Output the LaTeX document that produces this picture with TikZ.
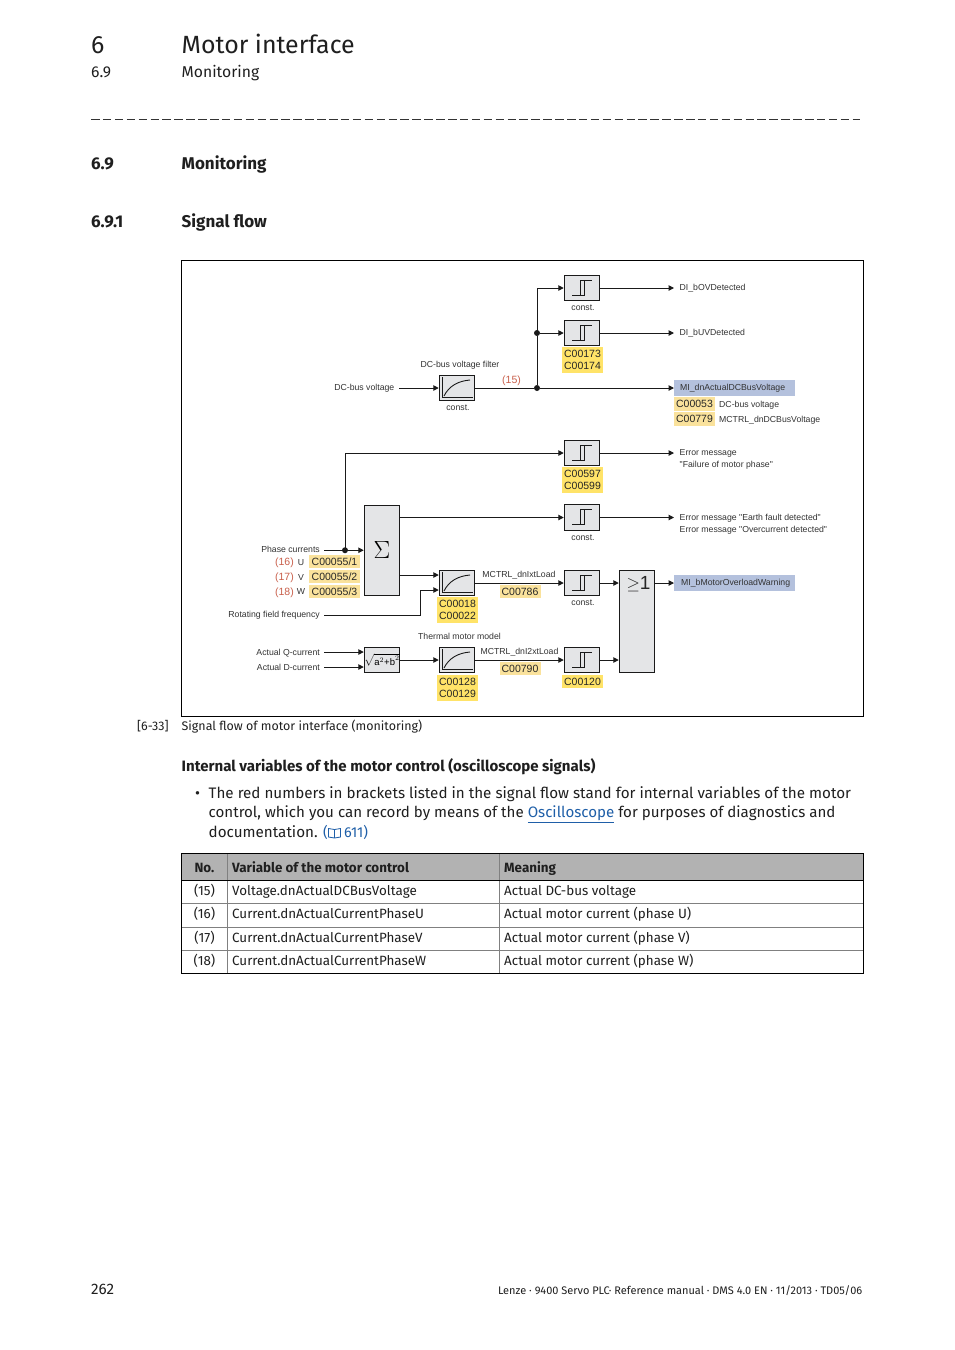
\documentclass[tikz,border=0pt]{standalone}
\usepackage{fontspec}
\setmainfont{Fira Sans}
\newfontfamily\arialf{Liberation Sans}
\usetikzlibrary{arrows.meta}
\definecolor{boxgray}{HTML}{E4E5E7}
\definecolor{lineblk}{HTML}{1A1A1A}
\definecolor{ylw}{HTML}{FFE368}
\definecolor{pale}{HTML}{FAE29C}
\definecolor{blu}{HTML}{B4C1DD}
\definecolor{redn}{HTML}{C9604C}
\definecolor{txtg}{HTML}{333333}
\definecolor{linkc}{HTML}{1F5FA8}
\definecolor{headg}{HTML}{B2B2B2}
\definecolor{rowg}{HTML}{808080}
\newcommand{\fsz}[1]{\fontsize{#1}{#1}\selectfont}
\tikzset{
 x=1pt,y=-1pt,
 block/.style={draw=lineblk,fill=boxgray,line width=1pt,inner sep=0pt,minimum width=35.5pt},
 thr/.style={block,minimum height=25.5pt},
 sig/.style={->,>={Triangle[length=5.5pt,width=5.5pt]},draw=lineblk,line width=1pt},
 wire/.style={draw=lineblk,line width=1pt},
 dotn/.style={circle,fill=lineblk,inner sep=0pt,minimum size=6pt},
 lab/.style={font=\arialf\fsz{8.7},text=txtg,inner sep=0pt},
 par1/.style={font=\arialf\fsz{10.5},text=black!85,inner sep=0pt,align=center},
 ybox/.style={par1,fill=ylw,minimum width=41pt},
 pbox/.style={par1,fill=pale},
 redl/.style={font=\arialf\fsz{10.5},text=redn,inner sep=0pt},
 bbox/.style={lab,fill=blu,minimum width=121pt,minimum height=16pt,anchor=west,text width=114pt,inner xsep=0pt,align=left},
 txt/.style={inner sep=0pt,anchor=base west,text=black!88},
 body/.style={txt,font=\fsz{15.2}},
 tbl/.style={txt,font=\fsz{13.4}},
 tblb/.style={txt,font=\bfseries\fsz{13.4}},
 secn/.style={txt,font=\bfseries\fsz{17}},
}
\newcommand{\thricon}[1]{%
 \draw[line width=0.7pt,draw=lineblk] ([shift={(-9.7,7)}]#1.center) -- ([shift={(2.3,7)}]#1.center) -- ([shift={(2.3,-8)}]#1.center)
   ([shift={(-2,7)}]#1.center) -- ([shift={(-2,-8)}]#1.center) -- ([shift={(10.3,-8)}]#1.center);}
\newcommand{\filticon}[1]{%
 \draw[line width=0.8pt,draw=lineblk] ([shift={(-14.3,-11)}]#1.center) -- ([shift={(-14.3,9.7)}]#1.center) -- ([shift={(16,9.7)}]#1.center);
 \draw[line width=0.9pt,draw=lineblk] ([shift={(-13,8)}]#1.center) .. controls ([shift={(-8,-2)}]#1.center) and ([shift={(1,-7)}]#1.center) .. ([shift={(13,-8)}]#1.center);}
\begin{document}
\begin{tikzpicture}
\useasboundingbox[fill=white] (0,0) rectangle (954,1350);
% page head
\node[txt,font=\fsz{24.9}] (h1) at (91,53) {6};
\node[txt,font=\fsz{24.9}] (h2) at (181.5,53) {Motor interface};
\node[body,font=\fsz{15.7}] (h3) at (91,77) {6.9};
\node[body,font=\fsz{15.7}] (h4) at (181.5,77) {Monitoring};
\coordinate (dl) at (91,119.5); \coordinate (dr) at (860,119.5);
\draw[line width=0.9pt,dash pattern=on 8.5pt off 3.4pt,draw=black!80] (dl) -- (dr);
\node[secn] (s1) at (91,169) {6.9};
\node[secn] (s2) at (181.5,169) {Monitoring};
\node[secn] (s3) at (91,227) {6.9.1};
\node[secn] (s4) at (181.5,227) {Signal flow};
% frame
\draw[line width=1pt,draw=black] (181.5,260.5) rectangle (863.5,716.5);
% yellow/blue backgrounds
\node[bbox] (mi1) at (674,388) {\hspace*{2.5pt}MI\_dnActualDCBusVoltage};
\node[bbox] (mi2) at (674,583) {\hspace*{3.5pt}MI\_bMotorOverloadWarning};
\node[pbox,minimum width=41pt,minimum height=14.5pt] (c53) at (694.5,404) {C00053};
\node[pbox,minimum width=41pt,minimum height=14pt] (c779) at (694.5,419) {C00779};
\node[pbox,minimum width=51pt,minimum height=13pt] (c551) at (334.5,561.5) {C00055/1};
\node[pbox,minimum width=51pt,minimum height=13pt] (c552) at (334.5,576.5) {C00055/2};
\node[pbox,minimum width=51pt,minimum height=13pt] (c553) at (334.5,591.5) {C00055/3};
\node[pbox,minimum width=41pt,minimum height=13pt] (c786) at (520,591.5) {C00786};
\node[pbox,minimum width=41pt,minimum height=13pt] (c790) at (520,668.5) {C00790};
\node[ybox,minimum height=26pt] (c173) at (582.5,360) {C00173\\[1.5pt]C00174};
\node[ybox,minimum height=26pt] (c597) at (582.5,480) {C00597\\[1.5pt]C00599};
\node[ybox,minimum height=26pt] (c18) at (457.5,610) {C00018\\[1.5pt]C00022};
\node[ybox,minimum height=26pt] (c128) at (457.5,688) {C00128\\[1.5pt]C00129};
\node[ybox,minimum height=13pt] (c120) at (582.5,681.5) {C00120};
% blocks
\node[thr] (t1) at (582,288) {};
\node[thr] (t2) at (582,333) {};
\node[thr] (t3) at (582,453) {};
\node[thr] (t4) at (582,517.5) {};
\node[thr] (t5) at (582,583) {};
\node[thr] (t6) at (582,660) {};
\node[thr] (f1) at (457,388) {};
\node[thr] (f2) at (457,583) {};
\node[thr] (f3) at (457,660) {};
\node[block,minimum height=90.5pt,font=\fsz{24}] (sum) at (382,550.25) {$\Sigma$};
\node[thr,font=\fsz{9.5}] (rt) at (382,660) {$\sqrt{\mbox{\arialf a}^{2}\mbox{\arialf +b}^{2}}$};
\node[block,minimum height=102.5pt] (orb) at (637,621.25) {};
\node[inner sep=0pt,font=\arialf\fsz{19},text=black!85] (orl) at (638.5,584) {$\geq$1};
\thricon{t1}\thricon{t2}\thricon{t3}\thricon{t4}\thricon{t5}\thricon{t6}
\filticon{f1}\filticon{f2}\filticon{f3}
% labels
\node[lab,anchor=base] (k1) at (583,310) {const.};
\node[lab,anchor=base] (k2) at (458,410) {const.};
\node[lab,anchor=base] (k3) at (583,540) {const.};
\node[lab,anchor=base] (k4) at (583,605) {const.};
\node[lab,anchor=base,text=txtg] (l1) at (460,367) {DC-bus voltage filter};
\node[lab,anchor=base east] (l2) at (394.5,390) {DC-bus voltage};
\node[redl,anchor=base] (r15) at (511.5,383) {(15)};
\node[lab,anchor=base west] (o1) at (679.5,290) {DI\_bOVDetected};
\node[lab,anchor=base west] (o2) at (679.5,335) {DI\_bUVDetected};
\node[lab,anchor=base west] (o3) at (719,407) {DC-bus voltage};
\node[lab,anchor=base west] (o4) at (719,422) {MCTRL\_dnDCBusVoltage};
\node[lab,anchor=base west] (o5) at (679.5,455) {Error message};
\node[lab,anchor=base west] (o6) at (679.5,467) {"Failure of motor phase"};
\node[lab,anchor=base west] (o7) at (679.5,520) {Error message "Earth fault detected"};
\node[lab,anchor=base west] (o8) at (679.5,532) {Error message "Overcurrent detected"};
\node[lab,anchor=base east] (i1) at (320,552) {Phase currents};
\node[redl,anchor=base east] (r16) at (294,565.5) {(16)};
\node[redl,anchor=base east] (r17) at (294,580.5) {(17)};
\node[redl,anchor=base east] (r18) at (294,595) {(18)};
\node[lab,anchor=base] (u) at (301,565) {U};
\node[lab,anchor=base] (v) at (301,580) {V};
\node[lab,anchor=base] (w) at (301,594.5) {W};
\node[lab,anchor=base east] (i2) at (320,617) {Rotating field frequency};
\node[lab,anchor=base east] (i3) at (320,655) {Actual Q-current};
\node[lab,anchor=base east] (i4) at (320,670) {Actual D-current};
\node[lab,anchor=base] (m1) at (519,577.5) {MCTRL\_dnIxtLoad};
\node[lab,anchor=base] (m2) at (519.5,654.5) {MCTRL\_dnI2xtLoad};
\node[lab,anchor=base] (m3) at (459.5,639.5) {Thermal motor model};
% free ends
\coordinate (dcv) at (399,388);
\coordinate (pc) at (324,550.25);
\coordinate (rf) at (324,615);
\coordinate (aq) at (324,652);
\coordinate (ad) at (324,667);
\coordinate (e1) at (674,288);
\coordinate (e2) at (674,333);
\coordinate (e5) at (674,453);
\coordinate (e7) at (674,517.5);
% connectors
\node[dotn] (j1) at (537,388) {};
\node[dotn] (j2) at (537,333) {};
\node[dotn] (j3) at (345,550.25) {};
\draw[sig] (dcv) -- (f1.west);
\draw[wire] (f1.east) -- (j1);
\draw[sig] (j1) -- (mi1.west);
\draw[wire] (j1) -- (j2);
\draw[sig] (j2) -- (t2.west);
\draw[sig] (j2.center) |- (t1.west);
\draw[sig] (t1.east) -- (e1);
\draw[sig] (t2.east) -- (e2);
\draw[sig] (t3.east) -- (e5);
\draw[sig] (t4.east) -- (e7);
\draw[wire] (pc) -- (j3);
\draw[sig] (j3) -- (sum.west);
\draw[sig] (j3.center) |- (t3.west);
\draw[sig] (sum.east |- t4.west) -- (t4.west);
\draw[sig] (sum.east |- 0,575) -- (f2.west |- 0,575);
\draw[sig] (rf) -| (420,590) -- (f2.west |- 0,590);
\draw[sig] (aq) -- (rt.west |- aq);
\draw[sig] (ad) -- (rt.west |- ad);
\draw[sig] (rt.east) -- (f3.west);
\draw[sig] (f2.east) -- (t5.west);
\draw[sig] (f3.east) -- (t6.west);
\draw[sig] (t5.east) -- (orb.west |- t5.east);
\draw[sig] (t6.east) -- (orb.west |- t6.east);
\draw[sig] (orb.east |- mi2.west) -- (mi2.west);
% caption and body
\node[txt,font=\fsz{12.45}] (cap1) at (137,730) {[6-33]};
\node[txt,font=\fsz{12.45}] (cap2) at (181.5,730) {Signal flow of motor interface (monitoring)};
\node[txt,font=\bfseries\fsz{15.05}] (hd) at (181.5,771) {Internal variables of the motor control (oscilloscope signals)};
\node[body] (bu) at (195,798) {•};
\node[body] (p1) at (208.5,798) {The red numbers in brackets listed in the signal flow stand for internal variables of the motor};
\node[body,font=\fsz{15.1}] (p2) at (208.5,817.5) {control, which you can record by means of the {\color{linkc}\underline{Oscilloscope}} for purposes of diagnostics and};
\node[body] (p3) at (208.5,837) {documentation.};
\node[txt,font=\fsz{14.4},text=linkc] (p4) at (323,837) {(};
\draw[draw=linkc,line width=0.8pt,fill=white] (328.5,828.5) -- (334.5,829.5) -- (340.5,828.5) -- (340.5,837) -- (334.5,838) -- (328.5,837) -- cycle (334.5,829.5) -- (334.5,838);
\node[txt,font=\fsz{14.4},text=linkc] (p5) at (344,837) {611)};
% table
\fill[headg] (181.5,853.5) rectangle (863.5,880);
\draw[rowg,line width=0.8pt] (181.5,903.5) -- (863.5,903.5) (181.5,927) -- (863.5,927) (181.5,950.5) -- (863.5,950.5) (227.5,853.5) -- (227.5,973.5) (499.5,853.5) -- (499.5,973.5);
\draw[black,line width=0.9pt] (181.5,880) -- (863.5,880);
\draw[black,line width=1pt] (181.5,853.5) rectangle (863.5,973.5);
\node[tblb,anchor=base] (a0) at (204.5,872.5) {No.};
\node[tblb] (b0) at (232,872.5) {Variable of the motor control};
\node[tblb] (c0) at (504,872.5) {Meaning};
\node[tbl,anchor=base] (a1) at (204.5,895) {(15)};
\node[tbl] (b1) at (232,895) {Voltage.dnActualDCBusVoltage};
\node[tbl] (c1) at (504,895) {Actual DC-bus voltage};
\node[tbl,anchor=base] (a2) at (204.5,918) {(16)};
\node[tbl] (b2) at (232,918) {Current.dnActualCurrentPhaseU};
\node[tbl] (c2) at (504,918) {Actual motor current (phase U)};
\node[tbl,anchor=base] (a3) at (204.5,942) {(17)};
\node[tbl] (b3) at (232,942) {Current.dnActualCurrentPhaseV};
\node[tbl] (c3) at (504,942) {Actual motor current (phase V)};
\node[tbl,anchor=base] (a4) at (204.5,965) {(18)};
\node[tbl] (b4) at (232,965) {Current.dnActualCurrentPhaseW};
\node[tbl] (c4) at (504,965) {Actual motor current (phase W)};
% footer
\node[body] (pg) at (91,1294) {262};
\node[txt,font=\fsz{10.98},anchor=base east] (ft) at (862.5,1294) {Lenze · 9400 Servo PLC· Reference manual · DMS 4.0 EN · 11/2013 · TD05/06};
\end{tikzpicture}
\end{document}
